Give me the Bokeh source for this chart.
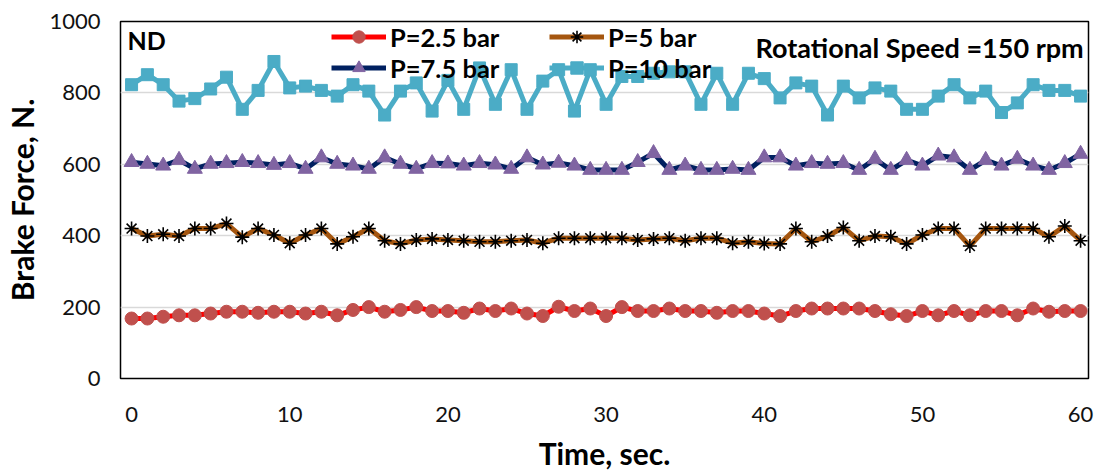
from bokeh.plotting import figure
from bokeh.models import Range1d, FixedTicker, Legend, LegendItem, Label
from bokeh.embed import file_html
from bokeh.resources import INLINE

time_s = list(range(61))
p25 = [168, 168, 173, 177, 177, 182, 187, 187, 184, 187,
       187, 182, 187, 177, 192, 200, 187, 192, 200, 189,
       189, 184, 196, 189, 196, 182, 175, 201, 189, 196,
       175, 200, 189, 189, 196, 189, 189, 184, 189, 189,
       182, 175, 189, 196, 196, 196, 196, 189, 180, 175,
       189, 177, 189, 177, 189, 189, 177, 196, 187, 189,
       189]
p5 = [420, 399, 404, 399, 420, 420, 434, 396, 420, 402,
      379, 402, 420, 377, 397, 420, 386, 377, 388, 391,
      388, 386, 383, 383, 386, 388, 379, 393, 393, 393,
      393, 393, 388, 391, 393, 386, 393, 393, 379, 383,
      378, 377, 420, 383, 399, 423, 386, 399, 397, 377,
      402, 420, 420, 371, 420, 420, 420, 420, 397, 427,
      386]
p75 = [606, 601, 596, 612, 587, 601, 603, 606, 603, 598,
       603, 587, 619, 601, 596, 587, 619, 601, 587, 603,
       602, 596, 603, 599, 587, 619, 599, 604, 596, 584,
       584, 584, 606, 631, 584, 596, 584, 584, 587, 584,
       619, 619, 596, 603, 601, 603, 584, 615, 584, 612,
       596, 624, 619, 584, 612, 596, 615, 596, 584, 603,
       629]
p10 = [823, 851, 823, 777, 784, 811, 844, 754, 807, 888,
       814, 819, 807, 791, 823, 805, 738, 805, 828, 749,
       835, 754, 870, 768, 865, 754, 833, 865, 749, 865,
       768, 846, 846, 855, 859, 859, 768, 855, 768, 855,
       840, 786, 828, 819, 738, 819, 786, 814, 805, 754,
       754, 791, 823, 786, 805, 745, 772, 823, 807, 807,
       791]
series_names = ["P=2.5 bar", "P=5 bar", "P=7.5 bar", "P=10 bar"]
x_ticks = [0, 10, 20, 30, 40, 50, 60]
y_ticks = [0, 200, 400, 600, 800, 1000]

FONT = "Lato"

p = figure(width=1100, height=473, output_backend="svg", toolbar_location=None,
           x_range=Range1d(-0.7, 60.5), y_range=Range1d(0, 1000),
           min_border_left=120, min_border_right=12, min_border_top=21,
           min_border_bottom=94)
p.background_fill_color = "white"
p.border_fill_color = "white"
p.outline_line_color = "black"
p.outline_line_width = 1.5

p.xgrid.visible = False
p.ygrid.grid_line_color = "#d9d9d9"
p.ygrid.grid_line_width = 1.5

p.xaxis.ticker = FixedTicker(ticks=x_ticks)
p.yaxis.ticker = FixedTicker(ticks=y_ticks)
for ax in (p.xaxis[0], p.yaxis[0]):
    ax.axis_line_color = None
    ax.major_tick_line_color = None
    ax.minor_tick_line_color = None
    ax.major_tick_out = 0
    ax.major_tick_in = 0
    ax.major_label_text_font = FONT
    ax.major_label_text_font_size = "22px"
    ax.major_label_text_color = "#111111"
    ax.axis_label_text_font = FONT
    ax.axis_label_text_font_style = "bold"
    ax.axis_label_text_font_size = "30px"
    ax.axis_label_text_color = "#000000"

p.xaxis.axis_label = "Time, sec."
p.yaxis.axis_label = "Brake Force, N."
p.xaxis.major_label_standoff = 28
p.xaxis.axis_label_standoff = 10
p.yaxis.major_label_standoff = 20
p.yaxis.axis_label_standoff = 6

# series
l25 = p.line(time_s, p25, line_color="#ff0000", line_width=5)
m25 = p.scatter(time_s, p25, marker="circle", size=13, fill_color="#c0504d",
                line_color="#c0504d")
l5 = p.line(time_s, p5, line_color="#a5560f", line_width=5)
m5 = p.scatter(time_s, p5, marker="asterisk", size=14, line_color="black",
               line_width=1.6)
l75 = p.line(time_s, p75, line_color="#002060", line_width=5)
m75 = p.scatter(time_s, p75, marker="triangle", size=15, fill_color="#8064a2",
                line_color="#8064a2")
l10 = p.line(time_s, p10, line_color="#4bacc6", line_width=5)
m10 = p.scatter(time_s, p10, marker="square", size=12, fill_color="#4bacc6",
                line_color="#4bacc6")


def make_legend(items, loc):
    lg = Legend(items=items, location=loc, orientation="vertical")
    lg.glyph_width = 55
    lg.glyph_height = 31
    lg.label_height = 31
    lg.label_width = 118
    lg.label_standoff = 4
    lg.spacing = 0
    lg.padding = 0
    lg.margin = 0
    lg.border_line_color = None
    lg.background_fill_alpha = 0
    lg.label_text_font = FONT
    lg.label_text_font_style = "bold"
    lg.label_text_font_size = "25.5px"
    lg.label_text_color = "black"
    return lg


leg1 = make_legend([LegendItem(label=series_names[0], renderers=[l25, m25]),
                    LegendItem(label=series_names[2], renderers=[l75, m75])],
                   (211, 295))
leg2 = make_legend([LegendItem(label=series_names[1], renderers=[l5, m5]),
                    LegendItem(label=series_names[3], renderers=[l10, m10])],
                   (429, 295))
p.add_layout(leg1)
p.add_layout(leg2)

p.add_layout(Label(x=7, y=339, x_units="screen", y_units="screen", text="ND",
                   text_font=FONT, text_font_style="bold", text_font_size="25px",
                   text_baseline="middle", text_color="black"))
p.add_layout(Label(x=635, y=331, x_units="screen", y_units="screen",
                   text="Rotational Speed =150 rpm",
                   text_font=FONT, text_font_style="bold", text_font_size="27px",
                   text_baseline="middle", text_color="black"))

open("out.html", "w").write(file_html(p, INLINE))
